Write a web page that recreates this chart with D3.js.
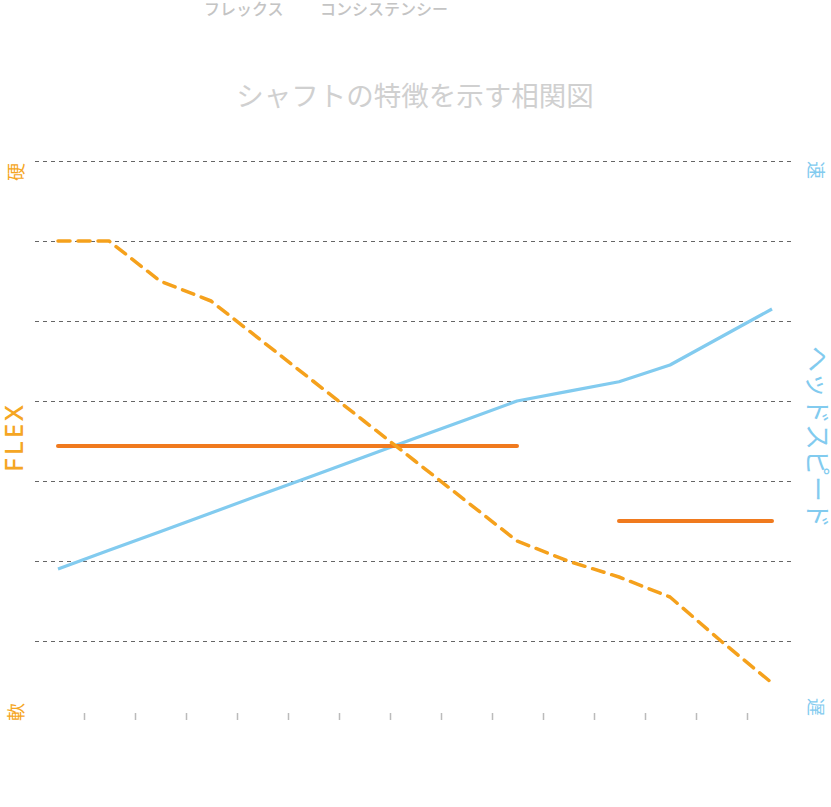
<!DOCTYPE html>
<html>
<head>
<meta charset="utf-8">
<script src="https://cdn.jsdelivr.net/npm/d3@7"></script>
<style>
html,body{margin:0;padding:0;background:#fff;}
svg{display:block;font-family:"Noto Sans CJK JP","Noto Sans",sans-serif;}
</style>
</head>
<body>
<svg id="chart" width="831" height="807"></svg>
<script>
// ---- data ----
const categories = ["1","2","3","4","5","6","7","8","9","10","11","12","13","14","15"];
const flexValues = [120,120,110,105,95,85,75,65,55,45,40,36,31,20,9.5];
const headSpeedValues = [38,42.7,47.3,52,56.7,61.3,66,70.7,75.3,80,82.4,84.8,89,96,103];
const consistencyA = [68.75,68.75,68.75,68.75,68.75,68.75,68.75,68.75,68.75,68.75,null,null,null,null,null];
const consistencyB = [null,null,null,null,null,null,null,null,null,null,null,50,50,50,50];
const yTicks = [20,40,60,80,100,120,140];
const legendLabels = ["フレックス","コンシステンシー"];
const titleText = "シャフトの特徴を示す相関図";
const leftAxisTitle = "FLEX";
const rightAxisTitle = "ヘッドスピード";
const leftTop = "硬", leftBottom = "軟", rightTop = "速", rightBottom = "遅";

// ---- layout ----
const svg = d3.select("#chart");
const x = d3.scaleBand().domain(categories).range([32.5, 797.5]);
const y = d3.scaleLinear().domain([0, 140]).range([721, 161]);
const cx = d => x(d) + x.bandwidth() / 2;

const orangeDash = "#f5a11c";
const orangeSolid = "#f07a1e";
const blue = "#82cbef";
const sideOrange = "#f5a623";

// defs for shadow
const defs = svg.append("defs");
const f = defs.append("filter").attr("id","shadow").attr("x","-5%").attr("y","-200%").attr("width","110%").attr("height","500%");
f.append("feGaussianBlur").attr("stdDeviation", 0.8);

// title & legend
svg.append("text").attr("x", 415).attr("y", 106).attr("text-anchor","middle")
  .attr("font-size", 27.5).attr("fill", "#d0d0d0").text(titleText);
const legendX = [204, 320];
legendLabels.forEach((t,i) => {
  svg.append("text").attr("x", legendX[i]).attr("y", 15).attr("font-size", 16)
    .attr("font-weight", 500).attr("fill", "#c4c4c4").text(t);
});

// grid
svg.append("g").selectAll("line").data(yTicks).join("line")
  .attr("x1", 35).attr("x2", 795).attr("y1", d => y(d) + 0.5).attr("y2", d => y(d) + 0.5)
  .attr("stroke", "#666").attr("stroke-width", 1).attr("stroke-dasharray", "4,4");

// bottom ticks at band boundaries
const xAxis = d3.axisBottom(x).tickSize(7).tickFormat("");
const gx = svg.append("g").attr("transform", "translate(0,713)").call(xAxis);
gx.select(".domain").remove();
gx.selectAll(".tick").attr("transform", d => `translate(${Math.round(x(d))+0.5},0)`);
gx.selectAll(".tick").filter((d,i) => i === 0).remove();
gx.selectAll(".tick line").attr("stroke", "#bbb").attr("stroke-width", 1.5);

// lines
const line = d3.line().defined(d => d.v !== null).x(d => cx(d.c)).y(d => y(d.v));
const mk = arr => categories.map((c,i) => ({c, v: arr[i]}));

// consistency bars with shadow
[consistencyA, consistencyB].forEach(arr => {
  svg.append("path").datum(mk(arr)).attr("d", line).attr("transform","translate(0,2.5)")
    .attr("fill","none").attr("stroke","#555").attr("stroke-opacity",0.8).attr("stroke-width",4)
    .attr("stroke-linecap","round").attr("filter","url(#shadow)");
});

svg.append("path").datum(mk(headSpeedValues)).attr("d", line)
  .attr("fill","none").attr("stroke", blue).attr("stroke-width", 3.2).attr("stroke-linejoin","round");

[consistencyA, consistencyB].forEach(arr => {
  svg.append("path").datum(mk(arr)).attr("d", line)
    .attr("fill","none").attr("stroke", orangeSolid).attr("stroke-width", 4).attr("stroke-linecap","round");
});

svg.append("path").datum(mk(flexValues)).attr("d", line)
  .attr("fill","none").attr("stroke", orangeDash).attr("stroke-width", 3.5)
  .attr("stroke-dasharray","12,8").attr("stroke-linejoin","round").attr("stroke-linecap","round");

// side labels
function vtext(xp, yp, rot, txt, size, color, extra) {
  const t = svg.append("text").attr("transform", `translate(${xp},${yp}) rotate(${rot})`)
    .attr("text-anchor","middle").attr("dominant-baseline","central")
    .attr("font-size", size).attr("fill", color).text(txt);
  if (extra) extra(t);
  return t;
}
vtext(15, 172, -90, leftTop, 18, sideOrange);
vtext(15, 712, -90, leftBottom, 18, sideOrange);
vtext(13, 437, -90, leftAxisTitle, 26, sideOrange, t => t.attr("letter-spacing", 3).attr("font-weight", 500).attr("font-family","'Noto Sans',sans-serif"));
vtext(817, 170, 90, rightTop, 18, blue);
vtext(817, 707, 90, rightBottom, 18, blue);
vtext(819, 437, 90, rightAxisTitle, 26, blue);
</script>
</body>
</html>
